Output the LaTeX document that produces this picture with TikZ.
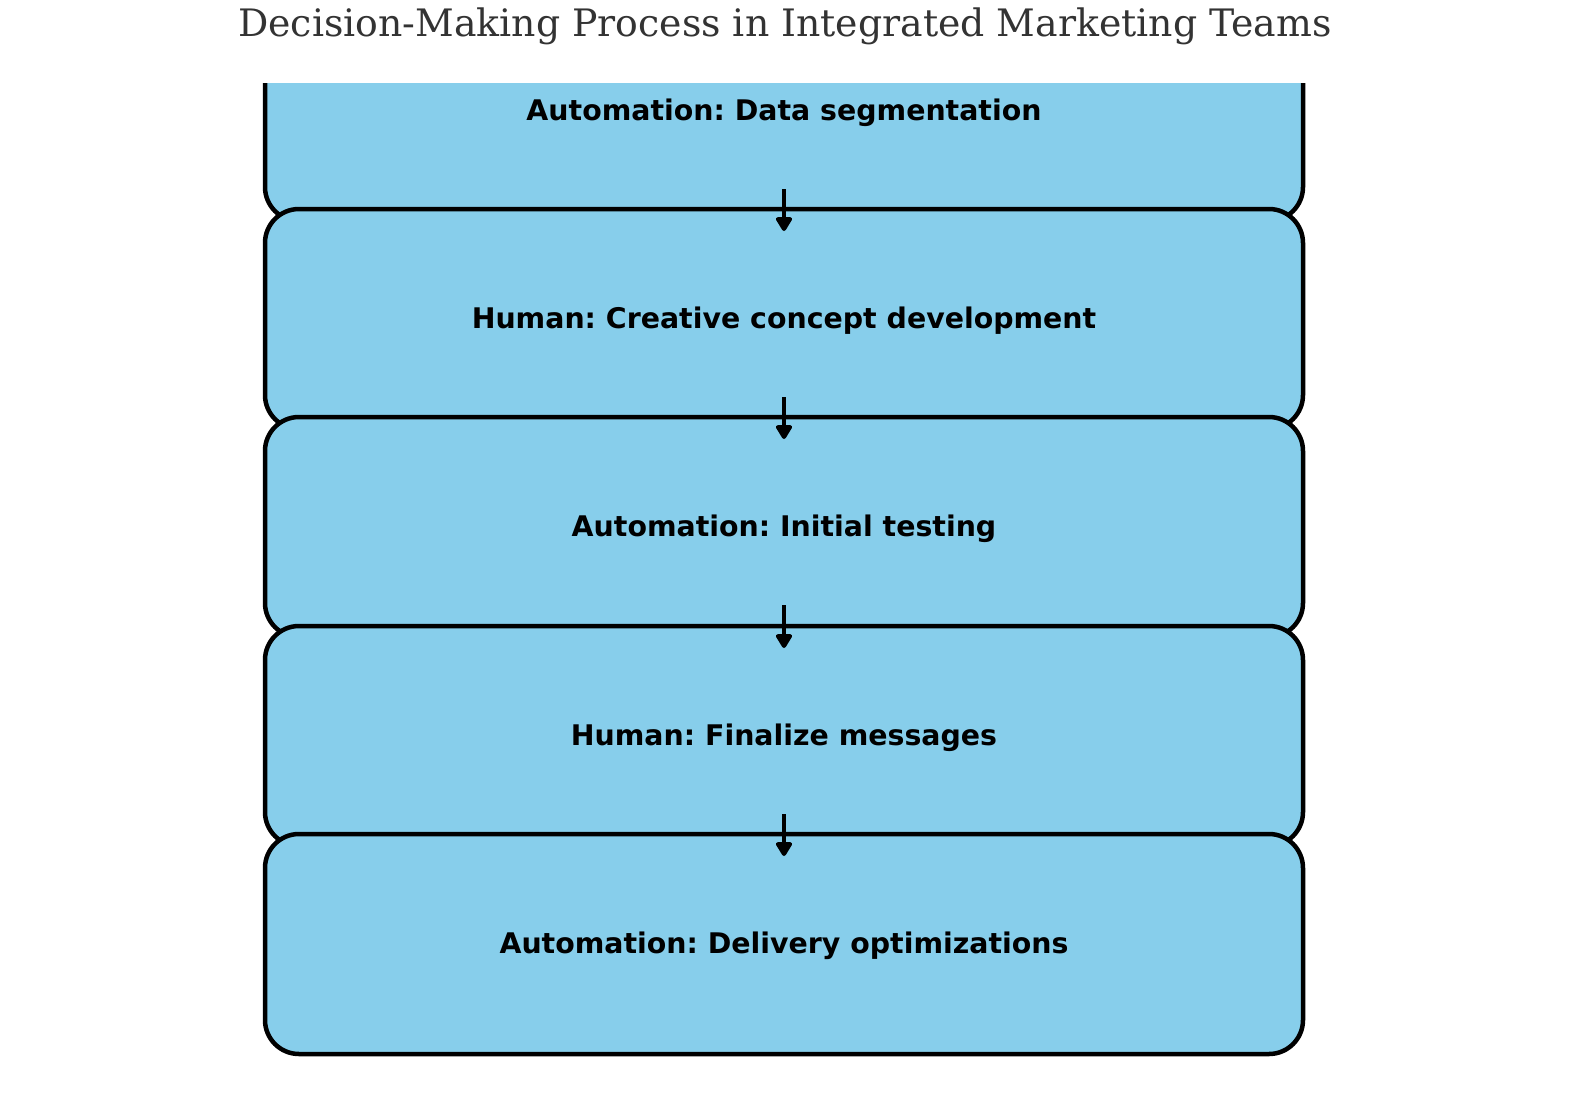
\documentclass[tikz,border=0pt]{standalone}
\usepackage{fontspec}
\setmainfont{DejaVu Sans}
\newfontfamily\titlefont{DejaVu Serif}
\usetikzlibrary{arrows.meta}
\definecolor{boxblue}{HTML}{87CEEB}
\definecolor{titlegray}{HTML}{333333}
\frenchspacing
\tikzset{
  stepbox/.style={draw=black, fill=boxblue, line width=2.25pt, rounded corners=17pt,
    minimum width=519pt, minimum height=110pt, inner sep=0pt, outer sep=0pt,
    text height=9pt, text depth=0pt, font=\fontsize{14.2pt}{17pt}\selectfont\bfseries},
  flowarrow/.style={draw=black, line width=2.25pt, line join=round,
    -{Triangle[length=8pt,width=9pt,round]}},
  titletext/.style={text=titlegray, font=\titlefont\fontsize{18.9pt}{23pt}\selectfont, inner sep=0pt, anchor=base}
}
\begin{document}
\begin{tikzpicture}[x=0.5pt,y=-0.5pt]
\useasboundingbox (0,0) rectangle (1576,1110);
\node[titletext] (title) at (785,36) {Decision-Making Process in Integrated Marketing Teams};
\begin{scope}
  \clip (0,83) rectangle (1576,1110);
  \node[stepbox] (b1) at (784,111) {Automation: Data segmentation};
\end{scope}
\node[stepbox] (b2) at (784,319) {Human: Creative concept development};
\node[stepbox] (b3) at (784,527) {Automation: Initial testing};
\node[stepbox] (b4) at (784,736) {Human: Finalize messages};
\node[stepbox] (b5) at (784,944) {Automation: Delivery optimizations};
\draw[flowarrow] ([yshift=16pt]b1.south) -- ([yshift=-11pt]b2.north);
\draw[flowarrow] ([yshift=16pt]b2.south) -- ([yshift=-11pt]b3.north);
\draw[flowarrow] ([yshift=16pt]b3.south) -- ([yshift=-11pt]b4.north);
\draw[flowarrow] ([yshift=16pt]b4.south) -- ([yshift=-11pt]b5.north);
\end{tikzpicture}
\end{document}
